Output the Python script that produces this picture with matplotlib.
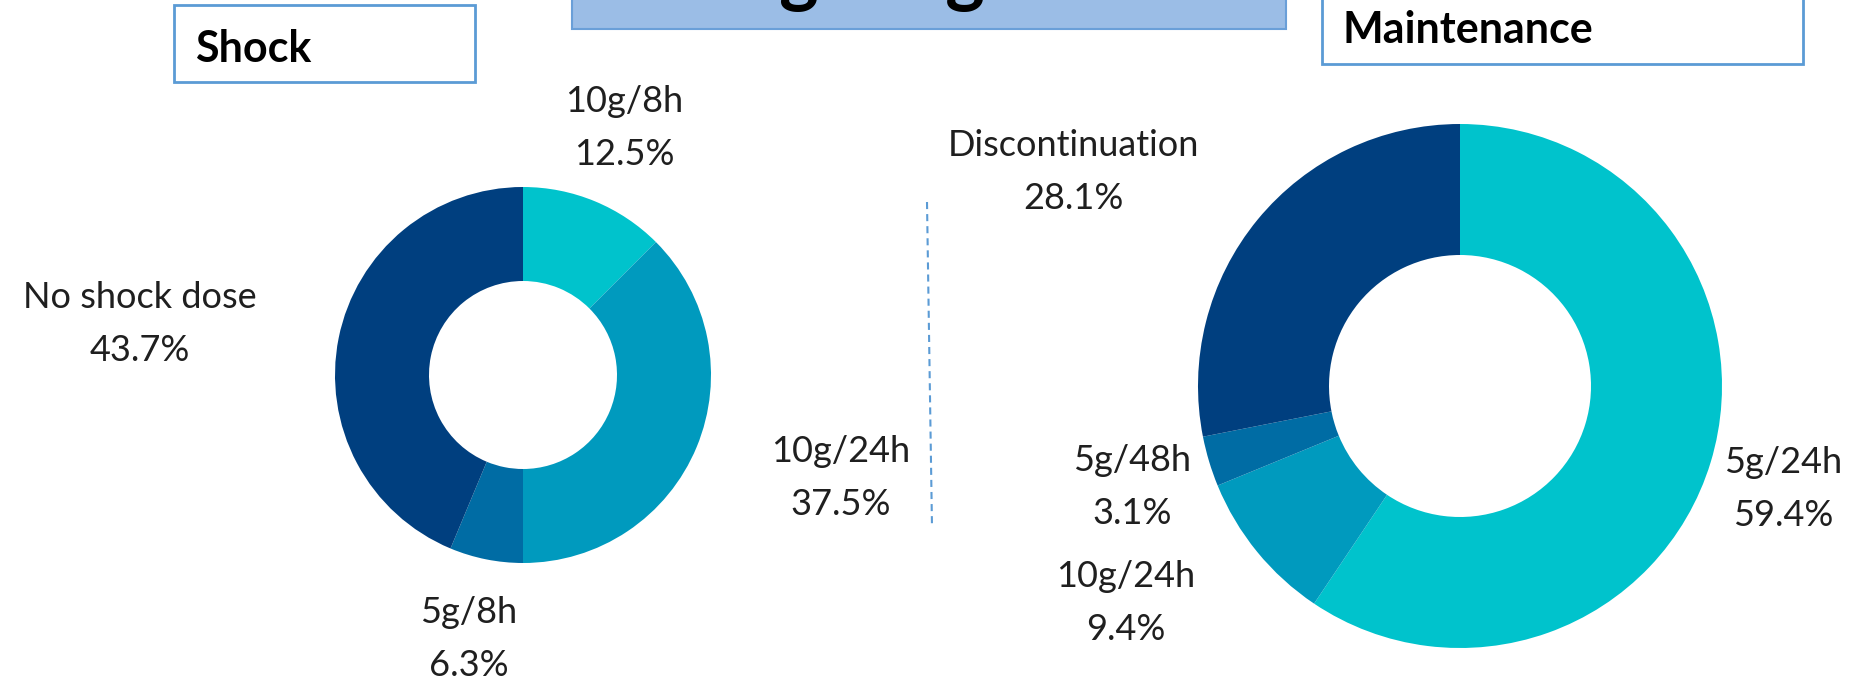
import matplotlib
matplotlib.use("Agg")
import matplotlib.pyplot as plt
from matplotlib.patches import Rectangle

# ---------------- data ----------------
shock_labels = ["10g/8h", "10g/24h", "5g/8h", "No shock dose"]
shock_values = [12.5, 37.5, 6.3, 43.7]
maint_labels = ["5g/24h", "10g/24h", "5g/48h", "Discontinuation"]
maint_values = [59.4, 9.4, 3.1, 28.1]
panel_titles = ["Shock", "Maintenance"]
main_title = "Dosage regimen"

colors = ["#00c3cc", "#009abe", "#006ca4", "#003f7f"]

# ---------------- layout (pixel coords, y from top) ----------------
W, H = 1875, 679
def Y(y):
    return H - y

fig = plt.figure(figsize=(W / 100, H / 100), dpi=100)
ax = fig.add_axes([0, 0, 1, 1])

# donut geometry
shock_center, shock_R = (523, 375), 188
maint_center, maint_R = (1460, 386), 262

ax.pie(shock_values, colors=colors, startangle=90, counterclock=False,
       radius=shock_R, center=(shock_center[0], Y(shock_center[1])),
       wedgeprops=dict(width=shock_R * 0.5, edgecolor="none", linewidth=0))
ax.pie(maint_values, colors=colors, startangle=90, counterclock=False,
       radius=maint_R, center=(maint_center[0], Y(maint_center[1])),
       wedgeprops=dict(width=maint_R * 0.5, edgecolor="none", linewidth=0))

ax.set_xlim(0, W)
ax.set_ylim(0, H)
ax.set_aspect("equal")
ax.axis("off")

# label positions: (center x, baseline y of first line)
shock_pos = [(624, 112), (841, 462), (469, 623), (140, 308)]
maint_pos = [(1783, 473), (1126, 587), (1132, 471), (1073, 156)]
line_gap = 53

lab_font = dict(family="Lato", fontsize=26, color="#1f1f1f")
for labels, values, pos in ((shock_labels, shock_values, shock_pos),
                            (maint_labels, maint_values, maint_pos)):
    for lab, v, (x, y) in zip(labels, values, pos):
        ax.text(x, Y(y), lab, ha="center", va="baseline", **lab_font)
        ax.text(x, Y(y + line_gap), f"{v:.1f}%", ha="center",
                va="baseline", **lab_font)

# dashed divider
ax.plot([927, 932], [Y(202), Y(527)], color="#5b9bd5", lw=1.5,
        ls=(0, (3.4, 2.4)))

# title box (cut at top)
ax.add_patch(Rectangle((572, Y(29)), 1286 - 572, 40, facecolor="#9bbde6",
                       edgecolor="#6a9fd8", lw=1.5, clip_on=True))
ax.text(608, Y(-3), main_title, ha="left", va="baseline",
        family="Lato", fontweight="bold", fontsize=54, color="black")

# panel boxes
ax.add_patch(Rectangle((174, Y(82)), 475 - 174, 82 - 5, facecolor="white",
                       edgecolor="#5b9bd5", lw=2))
ax.text(195, Y(62), panel_titles[0], ha="left", va="baseline",
        family="Lato", fontweight="bold", fontsize=31, color="black")
ax.add_patch(Rectangle((1322, Y(64)), 1803 - 1322, 80, facecolor="white",
                       edgecolor="#5b9bd5", lw=2))
ax.text(1342, Y(43), panel_titles[1], ha="left", va="baseline",
        family="Lato", fontweight="bold", fontsize=31, color="black")

fig.savefig("out.png", dpi=100, facecolor="white")
